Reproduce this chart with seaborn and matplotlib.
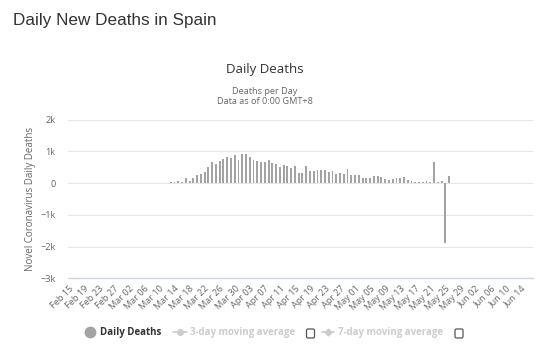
import matplotlib
matplotlib.use("Agg")
import matplotlib.pyplot as plt
from matplotlib.lines import Line2D
from matplotlib.patches import FancyBboxPatch
from matplotlib.transforms import IdentityTransform
import pandas as pd
import seaborn as sns

# axis range and data
axis_start = "2020-02-15"
axis_end = "2020-06-14"
first_day = "2020-03-13"
daily_deaths = [
    32, 32, 74, 42, 168, 74, 168, 242, 274, 358,        # Mar 13 - Mar 22
    505, 653, 610, 695, 747, 810, 779, 895, 716, 905,   # Mar 23 - Apr 01
    926, 810, 716, 684, 674, 674, 716, 632, 610, 505,   # Apr 02 - Apr 11
    579, 537, 484, 526, 305, 326, 526, 389, 368, 421,   # Apr 12 - Apr 21
    421, 421, 347, 368, 274, 326, 274, 432, 253, 245,   # Apr 22 - May 01
    240, 150, 150, 150, 210, 210, 200, 125, 105, 125,   # May 02 - May 11
    145, 165, 200, 95, 65, 45, 40, 45, 65, 35,          # May 12 - May 21
    670, 30, 55, -1900, 235,                            # May 22 - May 26
]
y_ticks = [-3000, -2000, -1000, 0, 1000, 2000]
y_tick_labels = ["\u22123k", "\u22122k", "\u22121k", "0", "1k", "2k"]
legend_labels = ["Daily Deaths", "3-day moving average", "7-day moving average"]

W, H = 548, 363


def px(x, y):
    # pixel position (from top-left) -> figure fraction
    return x / W, 1 - y / H


sns.set_theme(style="white")
plt.rcParams["font.family"] = ["Open Sans", "DejaVu Sans"]

start = pd.Timestamp(axis_start)
dates = pd.date_range(first_day, periods=len(daily_deaths), freq="D")
df = pd.DataFrame({"day": (dates - start).days, "deaths": daily_deaths})

fig = plt.figure(figsize=(W / 100, H / 100), dpi=100)
ax = fig.add_axes([68 / W, 1 - 278.3 / H, (533 - 68) / W, (278.3 - 119.5) / H])

sns.barplot(
    data=df, x="day", y="deaths", native_scale=True, width=0.5,
    color="#a3a3a3", saturation=1, linewidth=0, errorbar=None, ax=ax,
)

tick_dates = pd.date_range(axis_start, axis_end, freq="4D")
ax.set_xticks((tick_dates - start).days)
ax.set_xticklabels(
    [d.strftime("%b %d") for d in tick_dates],
    rotation=45, ha="right", rotation_mode="anchor",
    fontsize=6.6, color="#666666",
)
ax.set_yticks(y_ticks)
ax.set_yticklabels(y_tick_labels, fontsize=6.6, color="#666666")
ax.tick_params(axis="x", length=0, pad=4)
ax.tick_params(axis="y", length=0, pad=9)
ax.set_xlim(-0.32, 123.3)
ax.set_ylim(-3000, 2000)
ax.set_xlabel("")
ax.set_ylabel("")
ax.grid(axis="y", color="#e6e6e6", linewidth=0.8)
ax.grid(axis="x", visible=False)
for side in ["top", "left", "right"]:
    ax.spines[side].set_visible(False)
ax.spines["bottom"].set_color("#ccd6eb")
ax.spines["bottom"].set_linewidth(1.0)

# titles
fig.text(*px(13, 21), "Daily New Deaths in Spain", family="Liberation Sans",
         fontsize=12.3, color="#333333", ha="left", va="center")
fig.text(*px(264.5, 69), "Daily Deaths", fontsize=9.5, color="#333333",
         ha="center", va="center")
fig.text(*px(264.5, 91), "Deaths per Day", fontsize=6.6, color="#666666",
         ha="center", va="center")
fig.text(*px(264.5, 102), "Data as of 0:00 GMT+8", fontsize=6.6, color="#666666",
         ha="center", va="center")
fig.text(*px(30.5, 198.5), "Novel Coronavirus Daily Deaths", fontsize=7,
         color="#666666", rotation=90, ha="center", va="center")

# legend
ly = 332
fig.add_artist(Line2D([px(90, 0)[0]], [px(0, ly)[1]], marker="o", markersize=7.5,
                      color="#a3a3a3", linestyle="none"))
fig.text(*px(100, ly), legend_labels[0], fontsize=7, fontweight="bold",
         color="#333333", ha="left", va="center")

fig.add_artist(Line2D([px(173, 0)[0], px(187, 0)[0]], [px(0, ly)[1]] * 2,
                      color="#cccccc", linewidth=1.2))
fig.add_artist(Line2D([px(180, 0)[0]], [px(0, ly)[1]], marker="o", markersize=4,
                      color="#cccccc", linestyle="none"))
fig.text(*px(190, ly), legend_labels[1], fontsize=7, fontweight="bold",
         color="#cccccc", ha="left", va="center")

fig.add_artist(Line2D([px(321.5, 0)[0], px(334, 0)[0]], [px(0, ly)[1]] * 2,
                      color="#cccccc", linewidth=1.2))
fig.add_artist(Line2D([px(327.5, 0)[0]], [px(0, ly)[1]], marker="D", markersize=3.5,
                      color="#cccccc", linestyle="none"))
fig.text(*px(338, ly), legend_labels[2], fontsize=7, fontweight="bold",
         color="#cccccc", ha="left", va="center")

for cx in [310.5, 459]:
    fig.add_artist(FancyBboxPatch((cx - 4, H - 338), 8, 9,
                                  boxstyle="round,pad=0,rounding_size=1.5",
                                  facecolor="white", edgecolor="#555555",
                                  linewidth=0.9, transform=IdentityTransform()))

fig.savefig("out.png", dpi=100)
